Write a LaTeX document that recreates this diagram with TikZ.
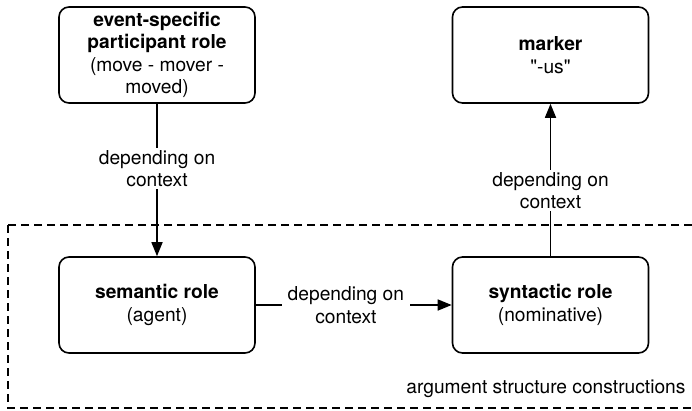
\documentclass[tikz,border=0pt]{standalone}
\usepackage{fontspec}
\setmainfont{TeX Gyre Heros}[Ligatures=TeXOff]
\usetikzlibrary{arrows.meta}
\newcommand{\drawthick}{\draw[line width=1.6pt]}
\newcommand{\rolelabel}[2]{\textbf{#1}\\#2}
\tikzset{
  rolebox/.style={draw, line width=1.6pt, rounded corners=10pt, minimum width=196pt,
    minimum height=96pt, align=center, inner sep=0pt},
  dependlabel/.style={fill=white, align=center, inner xsep=6pt, inner ysep=2pt},
  tip/.style={-{Triangle[length=14pt,width=11pt]}}
}
\begin{document}
\begin{tikzpicture}[x=1pt, y=-1pt, font=\fontsize{19.2}{22.5}\selectfont]
\useasboundingbox (0,0) rectangle (692,410);
% construction frame
\draw[line width=1.6pt, dash pattern=on 8pt off 5pt] (8,225) rectangle (700,408);
\node[anchor=base east] (asc) at (689,393) {argument structure constructions};
% roles
\node[rolebox] (evrole) at (157,55) {\textbf{event-specific}\\\textbf{participant role}\\(move - mover -\\moved)};
\node[rolebox] (marker) at (550.5,55) {\rolelabel{marker}{"-us"}};
\node[rolebox] (semrole) at (157,305) {\rolelabel{semantic role}{(agent)}};
\node[rolebox] (synrole) at (550.5,305) {\rolelabel{syntactic role}{(nominative)}};
% connections
\drawthick[tip] (evrole) -- (semrole) node[dependlabel, pos=.425] (dep1) {depending on\\context};
\drawthick[tip] (semrole) -- (synrole) node[dependlabel, pos=.46] (dep2) {depending on\\context};
\drawthick[tip] (synrole) -- (marker) node[dependlabel, pos=.43] (dep3) {depending on\\context};
\end{tikzpicture}
\end{document}
